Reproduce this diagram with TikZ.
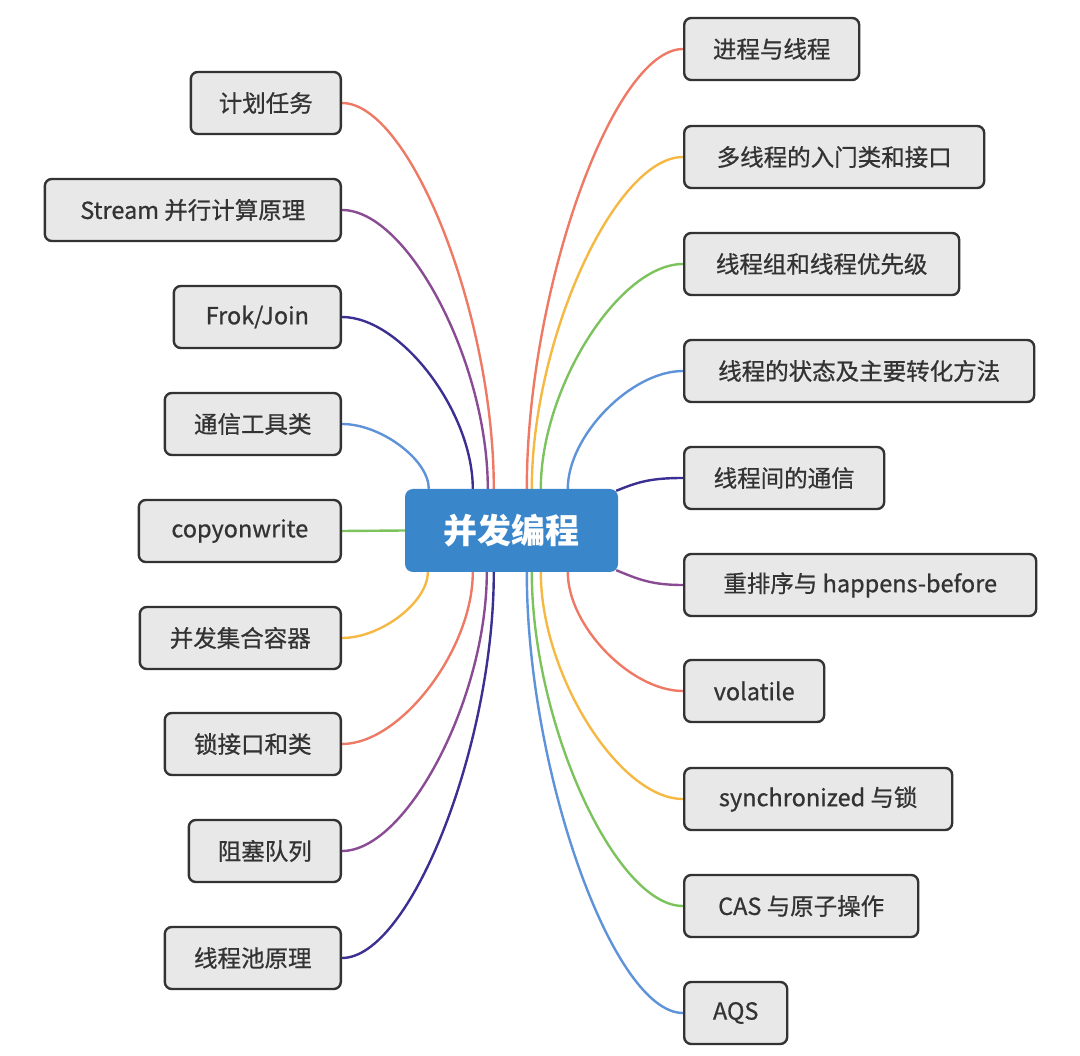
\documentclass[tikz,border=0pt]{standalone}
\usepackage{fontspec}
\setmainfont{Noto Sans CJK SC}
\newfontfamily\topicfont{Noto Sans CJK SC}[FakeBold=0.7]
\usetikzlibrary{backgrounds}
\definecolor{cred}{HTML}{EE7A66}
\definecolor{cyel}{HTML}{F4B843}
\definecolor{cgrn}{HTML}{7DC35D}
\definecolor{cblu}{HTML}{5E92D9}
\definecolor{cind}{HTML}{3B2F92}
\definecolor{cpur}{HTML}{8A4B94}
\definecolor{boxfill}{HTML}{E8E8E8}
\definecolor{boxline}{HTML}{333333}
\definecolor{centerfill}{HTML}{3A86CB}
\begin{document}
\begin{tikzpicture}[x=1pt,y=-1pt,
  topic/.style={draw=boxline, line width=2.4pt, fill=boxfill, rounded corners=7pt,
    minimum height=62pt, inner xsep=0pt, text=boxline,
    font=\topicfont\fontsize{23.5}{28}\selectfont},
  ltopic/.style={topic, anchor=east},
  rtopic/.style={topic, anchor=west},
  conn/.style={line width=2.4pt},
  centerbox/.style={fill=centerfill, rounded corners=8pt, minimum width=213pt,
    minimum height=83pt, text=white, font=\fontsize{34}{40}\selectfont\bfseries}
]
\path[use as bounding box] (0,0) rectangle (1080,1056);

\node[centerbox] (c) at (511.5,530.5) {并发编程};

% left topics
\node[ltopic, minimum width=150pt] (l1) at (342,103) {计划任务};
\node[ltopic, minimum width=296pt] (l2) at (342,210) {Stream 并行计算原理};
\node[ltopic, minimum width=167pt] (l3) at (342,317) {Frok/Join};
\node[ltopic, minimum width=176pt] (l4) at (342,424) {通信工具类};
\node[ltopic, minimum width=202pt] (l5) at (342,531) {copyonwrite};
\node[ltopic, minimum width=201pt] (l6) at (342,638) {并发集合容器};
\node[ltopic, minimum width=176pt] (l7) at (342,744) {锁接口和类};
\node[ltopic, minimum width=152pt] (l8) at (342,851) {阻塞队列};
\node[ltopic, minimum width=176pt] (l9) at (342,958) {线程池原理};

% right topics
\node[rtopic, minimum width=175pt] (r1) at (683,49) {进程与线程};
\node[rtopic, minimum width=300pt] (r2) at (683,157) {多线程的入门类和接口};
\node[rtopic, minimum width=275pt] (r3) at (683,264) {线程组和线程优先级};
\node[rtopic, minimum width=350pt] (r4) at (683,371) {线程的状态及主要转化方法};
\node[rtopic, minimum width=200pt] (r5) at (683,478) {线程间的通信};
\node[rtopic, minimum width=352pt] (r6) at (683,585) {重排序与 happens-before};
\node[rtopic, minimum width=140pt] (r7) at (683,691) {volatile};
\node[rtopic, minimum width=268pt] (r8) at (683,799) {synchronized 与锁};
\node[rtopic, minimum width=234pt] (r9) at (683,906) {CAS 与原子操作};
\node[rtopic, minimum width=103pt] (r10) at (683,1013) {AQS};

\begin{scope}[on background layer]
% left, upper
\draw[conn,cred] (l1.east) .. controls +(68,0) and +(0,-174) .. ([xshift=89pt]c.north west);
\draw[conn,cpur] (l2.east) .. controls +(66,0) and +(0,-126) .. ([xshift=83pt]c.north west);
\draw[conn,cind] (l3.east) .. controls +(59,0) and +(0,-77) .. ([xshift=68pt]c.north west);
\draw[conn,cblu] (l4.east) .. controls +(39,0) and +(0,-29) .. ([xshift=24pt]c.north west);
\draw[conn,cgrn] (l5.east) -- (c.west);
% left, lower
\draw[conn,cyel] (l6.east) .. controls +(39,0) and +(0,30) .. ([xshift=23pt]c.south west);
\draw[conn,cred] (l7.east) .. controls +(59,0) and +(0,77) .. ([xshift=68pt]c.south west);
\draw[conn,cpur] (l8.east) .. controls +(65,0) and +(0,126) .. ([xshift=82pt]c.south west);
\draw[conn,cind] (l9.east) .. controls +(68,0) and +(0,174) .. ([xshift=89pt]c.south west);
% right, upper
\draw[conn,cred] (r1.west) .. controls +(-70,0) and +(0,-198) .. ([xshift=122pt]c.north west);
\draw[conn,cyel] (r2.west) .. controls +(-68,0) and +(0,-149) .. ([xshift=127pt]c.north west);
\draw[conn,cgrn] (r3.west) .. controls +(-64,0) and +(0,-101) .. ([xshift=136pt]c.north west);
\draw[conn,cblu] (r4.west) .. controls +(-52,0) and +(0,-53) .. ([xshift=163pt]c.north west);
\draw[conn,cind] (r5.west) .. controls +(-32,0) and +(22,-9) .. ([xshift=-2pt,yshift=-2pt]c.north east);
\draw[conn,cpur] (r6.west) .. controls +(-32,0) and +(22,9) .. ([xshift=-2pt,yshift=2pt]c.south east);
% right, lower
\draw[conn,cred] (r7.west) .. controls +(-52,0) and +(0,54) .. ([xshift=163pt]c.south west);
\draw[conn,cyel] (r8.west) .. controls +(-64,0) and +(0,102) .. ([xshift=136pt]c.south west);
\draw[conn,cgrn] (r9.west) .. controls +(-68,0) and +(0,150) .. ([xshift=127pt]c.south west);
\draw[conn,cblu] (r10.west) .. controls +(-70,0) and +(0,198) .. ([xshift=122pt]c.south west);
\end{scope}
\end{tikzpicture}
\end{document}
